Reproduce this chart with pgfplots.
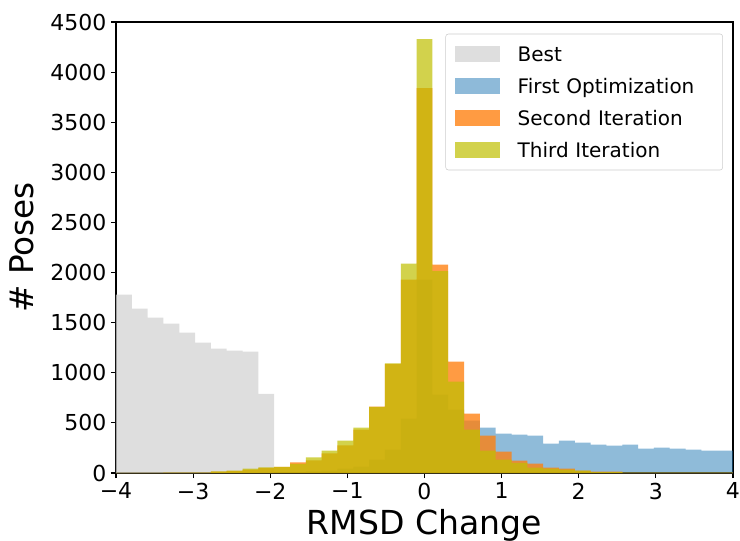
\documentclass[border=0pt]{standalone}
\usepackage{fontspec}
\setmainfont{DejaVu Sans}
\usepackage{pgfplots}
\usepackage{pgfplotstable}
\pgfplotsset{compat=1.18}
\definecolor{tabblue}{RGB}{31,119,180}
\definecolor{taborange}{RGB}{255,127,14}
\definecolor{mplyellow}{RGB}{191,191,0}
\definecolor{lgray}{RGB}{211,211,211}

\pgfplotstableread{
x best first second third
-4.0000 1780 2 2 2
-3.7949 1640 2 2 2
-3.5897 1550 2 2 2
-3.3846 1490 3 3 3
-3.1795 1400 3 3 3
-2.9744 1300 5 5 5
-2.7692 1240 5 13 15
-2.5641 1220 5 20 23
-2.3590 1210 5 33 43
-2.1538 790 8 50 55
-1.9487 0 8 60 62
-1.7436 0 10 105 92
-1.5385 0 15 125 155
-1.3333 0 23 196 223
-1.1282 0 43 275 323
-0.9231 0 63 433 453
-0.7179 0 133 663 660
-0.5128 0 233 1090 1093
-0.3077 0 543 1930 2090
-0.1026 0 1930 3840 4330
0.1026 0 782 2080 2014
0.3077 0 632 1112 912
0.5128 0 523 593 433
0.7179 0 453 373 223
0.9231 0 393 213 133
1.1282 0 383 123 100
1.3333 0 373 93 53
1.5385 0 293 53 43
1.7436 0 323 43 33
1.9487 0 303 23 23
2.1538 0 283 13 10
2.3590 0 273 13 8
2.5641 0 283 5 5
2.7692 0 243 3 3
2.9744 0 253 3 3
3.1795 0 243 3 3
3.3846 0 233 3 3
3.5897 0 223 3 3
3.7949 0 223 3 3
4.0000 0 223 3 3
}\histdata

\begin{document}
\begin{tikzpicture}
\begin{axis}[
  at={(0,0)}, anchor=south west,
  scale only axis, width=462.75pt, height=338.25pt,
  xmin=-4, xmax=4, ymin=0, ymax=4500,
  xtick={-4,-3,-2,-1,0,1,2,3,4},
  xticklabels={−4,−3,−2,−1,0,1,2,3,4},
  ytick={0,500,1000,1500,2000,2500,3000,3500,4000,4500},
  yticklabels={0,500,1000,1500,2000,2500,3000,3500,4000,4500},
  tick pos=left, tick align=outside, major tick length=3.75pt,
  every tick/.style={black, line width=0.8pt},
  axis line style={black, line width=0.8pt},
  ticklabel style={font=\fontsize{16.5}{19}\selectfont},
  xlabel={RMSD Change}, ylabel={\# Poses},
  xlabel style={font=\fontsize{24.8}{29}\selectfont, at={(axis description cs:0.5,-0.1365)}, anchor=base},
  ylabel style={font=\fontsize{24.5}{29}\selectfont, at={(axis description cs:-0.1345,0.5)}, anchor=base},
  legend cell align=left,
  legend image code/.code={\fill[#1, sharp corners] (0pt,-6pt) rectangle (33.75pt,6pt);},
  legend style={
    at={(1,1)}, anchor=north east, xshift=-7.5pt, yshift=-8.8pt,
    draw=black!20, rounded corners=2pt, fill=white,
    inner xsep=6.75pt, inner ysep=3pt,
    column sep=13.5pt, row sep=0pt,
    font=\fontsize{15}{18}\selectfont,
    nodes={inner xsep=0pt, inner ysep=3pt, text height=14.5pt, text depth=3.5pt, text width=147pt, align=left},
  },
]
\addplot[const plot, draw=none, fill=lgray, fill opacity=0.75] table[x=x, y=best] {\histdata} \closedcycle;
\addlegendentry{Best}
\addplot[const plot, draw=none, fill=tabblue, fill opacity=0.5] table[x=x, y=first] {\histdata} \closedcycle;
\addlegendentry{First Optimization}
\addplot[const plot, draw=none, fill=taborange, fill opacity=0.78] table[x=x, y=second] {\histdata} \closedcycle;
\addlegendentry{Second Iteration}
\addplot[const plot, draw=none, fill=mplyellow, fill opacity=0.7] table[x=x, y=third] {\histdata} \closedcycle;
\addlegendentry{Third Iteration}
\end{axis}
\pgfresetboundingbox
\useasboundingbox (-87pt,-50.25pt) rectangle (468pt,354.75pt);
\end{tikzpicture}
\end{document}
